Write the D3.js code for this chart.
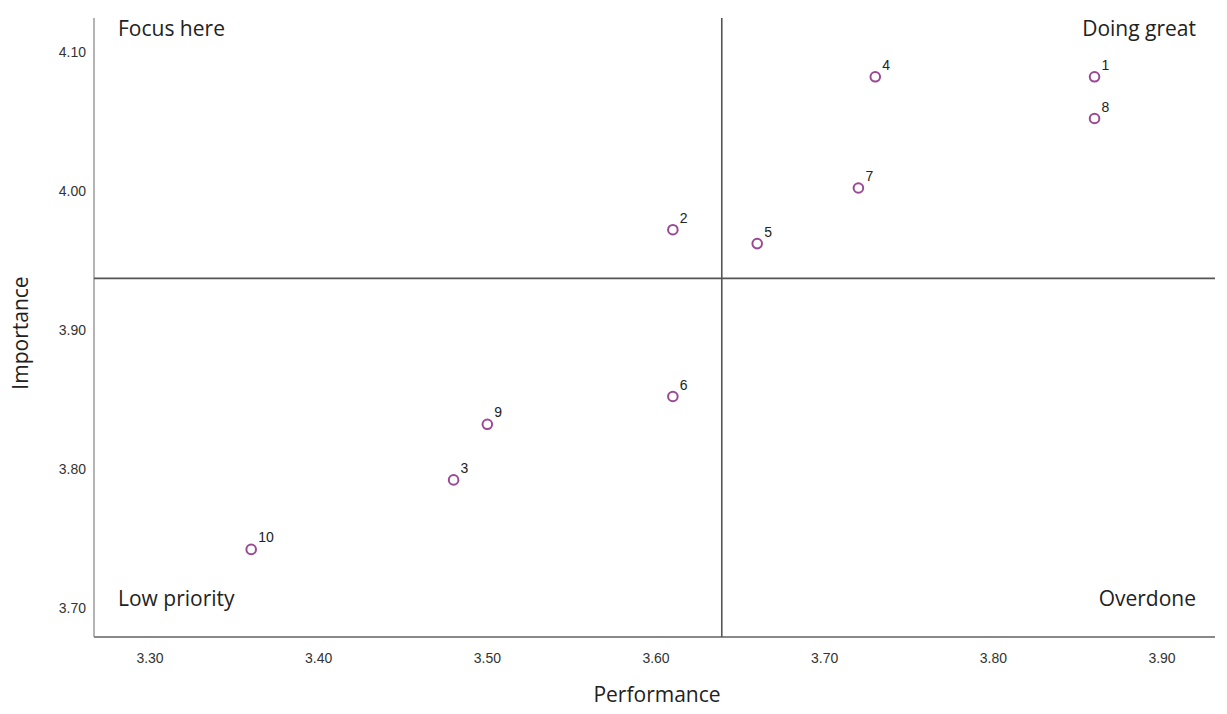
<!DOCTYPE html>
<html><head><meta charset="utf-8">
<script src="https://cdn.jsdelivr.net/npm/d3@7"></script>
<style>body{margin:0;background:#fff}</style>
</head><body>
<svg id="c" width="1227" height="714"></svg>
<script>
const ids = ["1","2","3","4","5","6","7","8","9","10"];
const performance = [3.86,3.61,3.48,3.73,3.66,3.61,3.72,3.86,3.50,3.36];
const importance  = [4.08,3.97,3.79,4.08,3.96,3.85,4.00,4.05,3.83,3.74];
const xTicks = [3.30,3.40,3.50,3.60,3.70,3.80,3.90];
const yTicks = [3.70,3.80,3.90,4.00,4.10];
const refLines = {x:3.639, y:3.935};
const quadrants = [
  {label:"Focus here", qx:"left", qy:"top"},
  {label:"Doing great", qx:"right", qy:"top"},
  {label:"Low priority", qx:"left", qy:"bottom"},
  {label:"Overdone", qx:"right", qy:"bottom"}
];

const svg = d3.select("#c");
const L=94, R=1215, T=18, B=637;
const x = d3.scaleLinear().domain([3.30,3.90]).range([150,1162]);
const y = d3.scaleLinear().domain([3.70,4.10]).range([605,49]);
const fontT = "'Liberation Sans', Arial, sans-serif";
const fontQ = "'Open Sans', sans-serif";

svg.append("line").attr("x1",L).attr("x2",L).attr("y1",T).attr("y2",B)
  .attr("stroke","#b4b4b4").attr("stroke-width",2);
svg.append("line").attr("x1",L).attr("x2",R).attr("y1",B).attr("y2",B)
  .attr("stroke","#888").attr("stroke-width",2);

svg.append("g").selectAll("text").data(xTicks).join("text")
  .attr("x",d=>x(d)).attr("y",B+26).attr("text-anchor","middle")
  .attr("font-family",fontT).attr("font-size",14).attr("fill","#333")
  .text(d=>d.toFixed(2));
svg.append("g").selectAll("text").data(yTicks).join("text")
  .attr("x",86).attr("y",d=>y(d)+8).attr("text-anchor","end")
  .attr("font-family",fontT).attr("font-size",14).attr("fill","#333")
  .text(d=>d.toFixed(2));

svg.append("line").attr("x1",x(refLines.x)).attr("x2",x(refLines.x)).attr("y1",T).attr("y2",B)
  .attr("stroke","#555").attr("stroke-width",1.6);
svg.append("line").attr("x1",L).attr("x2",R).attr("y1",y(refLines.y)).attr("y2",y(refLines.y))
  .attr("stroke","#555").attr("stroke-width",1.6);

svg.append("g").selectAll("text").data(quadrants).join("text")
  .attr("x",d=>d.qx==="left"?118:1196)
  .attr("y",d=>d.qy==="top"?36:606)
  .attr("text-anchor",d=>d.qx==="left"?"start":"end")
  .attr("font-family",fontQ).attr("font-size",21).attr("fill","#222")
  .text(d=>d.label);

const data = ids.map((id,i)=>({id, p:performance[i], imp:importance[i]}));
svg.append("g").selectAll("circle").data(data).join("circle")
  .attr("cx",d=>x(d.p)).attr("cy",d=>y(d.imp)).attr("r",4.8)
  .attr("fill","#fff").attr("stroke","#9a4a94").attr("stroke-width",2);
svg.append("g").selectAll("text").data(data).join("text")
  .attr("x",d=>x(d.p)+7).attr("y",d=>y(d.imp)-7)
  .attr("font-family",fontT).attr("font-size",14).attr("fill","#222")
  .text(d=>d.id);

svg.append("text").attr("x",657).attr("y",702).attr("text-anchor","middle")
  .attr("font-family",fontQ).attr("font-size",21).attr("fill","#222").text("Performance");
svg.append("text").attr("transform","translate(28,333) rotate(-90)").attr("text-anchor","middle")
  .attr("font-family",fontQ).attr("font-size",21).attr("fill","#222").text("Importance");
</script>
</body></html>
